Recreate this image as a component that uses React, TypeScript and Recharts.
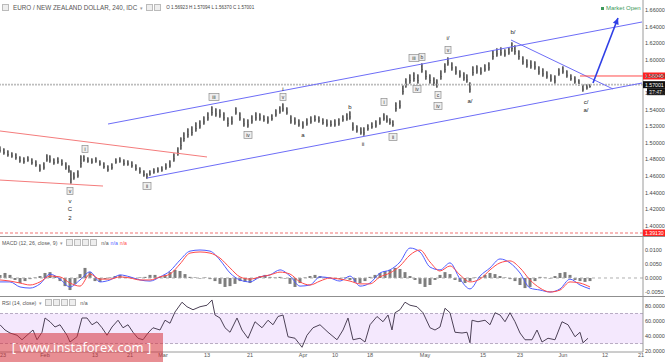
import React from "react";
import {
  ComposedChart,
  Bar,
  Line,
  XAxis,
  YAxis,
  ReferenceLine,
  ReferenceDot,
  ReferenceArea,
} from "recharts";

// bar index = 4h bars since the left edge of the window
const priceBar = [
  0, 4, 8, 12, 16, 20, 24, 28, 32, 36,
  40, 44, 47, 50, 54, 58, 62, 66, 69, 71,
  74, 78, 81, 84, 88, 92, 96, 100, 104, 108,
  112, 116, 120, 124, 128, 132, 136, 140, 144, 147,
  150, 154, 158, 162, 166, 170, 174, 178, 181, 184,
  188, 192, 196, 200, 204, 208, 212, 216, 220, 224,
  228, 232, 236, 240, 244, 248, 252, 256, 260, 264,
  268, 272, 276, 280, 283, 287, 291, 295, 299, 303,
  307, 311, 315, 319, 323, 327, 331, 335, 339, 343,
  347, 350, 353, 357, 361, 364, 368, 372, 376, 380,
  384, 387, 390, 393, 396, 400, 403, 406, 410, 414,
  418, 422, 426, 430, 434, 437, 441, 445, 448, 452,
  456, 460, 464, 467, 470, 473, 477, 481, 485, 489,
  493, 497, 501, 505, 509, 512, 515, 519, 523, 527,
  531, 535, 539, 543, 547, 551, 555, 559, 563, 567,
  571, 575, 579, 583, 587, 590,
];
const priceHigh = [
  1.4961, 1.4937, 1.4913, 1.4889, 1.4877, 1.4841, 1.4829, 1.4841, 1.4816, 1.4792,
  1.4744, 1.4768, 1.4865, 1.4853, 1.4816, 1.4829, 1.4804, 1.4768, 1.4732, 1.4672,
  1.4648, 1.4672, 1.4853, 1.4853, 1.4829, 1.4816, 1.4829, 1.4792, 1.4768, 1.4732,
  1.4756, 1.4816, 1.4829, 1.4804, 1.4792, 1.478, 1.4744, 1.4708, 1.4672, 1.4636,
  1.4672, 1.4696, 1.4708, 1.472, 1.4756, 1.4792, 1.4877, 1.4949, 1.5069, 1.513,
  1.5178, 1.5202, 1.525, 1.5274, 1.5322, 1.5371, 1.5443, 1.5419, 1.5407, 1.5371,
  1.531, 1.5322, 1.5431, 1.5371, 1.5298, 1.5286, 1.5335, 1.5371, 1.5359, 1.5335,
  1.5322, 1.5347, 1.5407, 1.5443, 1.5479, 1.5431, 1.5335, 1.531, 1.5286, 1.5262,
  1.5298, 1.5322, 1.5335, 1.5322, 1.5298, 1.5286, 1.5274, 1.5286, 1.5298, 1.5335,
  1.5359, 1.5383, 1.525, 1.5214, 1.519, 1.519, 1.5226, 1.525, 1.5274, 1.531,
  1.5359, 1.5335, 1.5298, 1.5274, 1.5491, 1.5515, 1.5696, 1.578, 1.5828, 1.5853,
  1.5828, 1.5961, 1.5877, 1.5828, 1.5792, 1.5768, 1.5877, 1.5961, 1.6033, 1.5973,
  1.5925, 1.5877, 1.5853, 1.5828, 1.5732, 1.5925, 1.5937, 1.5913, 1.5949, 1.5973,
  1.6118, 1.6142, 1.6154, 1.613, 1.6154, 1.6214, 1.6178, 1.6118, 1.6045, 1.6009,
  1.5997, 1.5985, 1.5925, 1.5901, 1.5865, 1.5828, 1.5816, 1.5901, 1.5925, 1.5877,
  1.5828, 1.5804, 1.5768, 1.5708, 1.5708, 1.5709,
];
const priceLow = [
  1.4877, 1.4853, 1.4829, 1.4816, 1.4792, 1.4756, 1.4744, 1.4768, 1.4732, 1.4708,
  1.4648, 1.4672, 1.4768, 1.4756, 1.4732, 1.4744, 1.472, 1.4672, 1.4636, 1.4503,
  1.4551, 1.4575, 1.4696, 1.4768, 1.4756, 1.4744, 1.4756, 1.472, 1.4684, 1.4648,
  1.4672, 1.4744, 1.4756, 1.472, 1.472, 1.4696, 1.466, 1.4624, 1.4588, 1.4563,
  1.46, 1.4624, 1.4636, 1.4648, 1.4672, 1.4696, 1.4768, 1.4841, 1.4913, 1.5009,
  1.5057, 1.5081, 1.513, 1.5166, 1.5214, 1.5262, 1.5322, 1.531, 1.5298, 1.5262,
  1.519, 1.5214, 1.5335, 1.5262, 1.519, 1.5178, 1.5226, 1.5262, 1.5262, 1.525,
  1.5226, 1.5262, 1.531, 1.5347, 1.5371, 1.5335, 1.5226, 1.5214, 1.519, 1.5166,
  1.5202, 1.5226, 1.525, 1.5238, 1.5214, 1.519, 1.519, 1.519, 1.5202, 1.525,
  1.5262, 1.5274, 1.5142, 1.5118, 1.5094, 1.5081, 1.5142, 1.5166, 1.5178, 1.5214,
  1.5262, 1.5238, 1.5214, 1.519, 1.5371, 1.5407, 1.5575, 1.566, 1.5708, 1.5732,
  1.5708, 1.584, 1.5756, 1.5708, 1.5684, 1.566, 1.5756, 1.584, 1.5925, 1.5865,
  1.5816, 1.578, 1.5744, 1.572, 1.56, 1.5804, 1.5828, 1.5816, 1.5853, 1.5865,
  1.5997, 1.6033, 1.6045, 1.6033, 1.6057, 1.6094, 1.6057, 1.5997, 1.5937, 1.5901,
  1.5889, 1.5877, 1.5816, 1.5792, 1.5768, 1.5732, 1.5708, 1.5804, 1.5828, 1.578,
  1.5744, 1.5708, 1.5684, 1.5612, 1.5637, 1.566,
];

const priceTicks = [1.4, 1.42, 1.44, 1.46, 1.48, 1.5, 1.52, 1.54, 1.56, 1.58, 1.6, 1.62, 1.64, 1.66];

// MACD (12, 26, close, 9)
const macdBar = [
  0, 10, 20, 30, 40, 50, 60, 70, 80, 90, 100, 110, 120, 130, 140, 150, 160, 170, 180, 190,
  200, 210, 220, 230, 240, 250, 260, 270, 280, 290, 300, 310, 320, 330, 340, 350, 360, 370, 380, 390,
  400, 410, 420, 430, 440, 450, 460, 470, 480, 490, 500, 510, 520, 530, 540, 550, 560, 570, 580, 590,
];
const macdLine = [
  -0.0014, -0.0014, -0.0032, -0.0036, -0.0021, 0.0014, -0.0004, -0.0032, -0.0007, 0.0022,
  -0.0014, -0.0007, 0.0011, 0.0004, -0.0007, -0.0011, 0.0004, 0.0025, 0.0064, 0.0096,
  0.01, 0.0096, 0.0064, 0.0018, -0.0007, -0.0014, 0.0004, 0.0011, 0.0029, 0.0007,
  -0.0029, -0.0025, 0.0004, 0.0, -0.0011, 0.0007, -0.0029, -0.0018, 0.0018, 0.0029,
  0.0057, 0.0107, 0.0093, 0.0039, 0.0029, 0.0054, -0.0004, -0.0039, 0.0007, 0.0036,
  0.0068, 0.0054, 0.0018, -0.0036, -0.0043, -0.005, -0.0039, -0.0004, -0.0025, -0.0039,
];
const signalLine = [
  -0.0007, -0.0011, -0.0018, -0.0025, -0.0014, 0.0007, 0.0004, -0.0018, -0.0029, 0.0014,
  -0.0004, -0.0004, 0.0004, 0.0, -0.0007, -0.0007, 0.0004, 0.0014, 0.005, 0.0089,
  0.0093, 0.0089, 0.0071, 0.0036, 0.0004, -0.0004, 0.0004, 0.0011, 0.0021, 0.0014,
  -0.0014, -0.0025, -0.0011, 0.0, -0.0004, -0.0011, -0.0021, -0.0021, 0.0004, 0.0018,
  0.0043, 0.0082, 0.01, 0.0057, 0.0025, 0.0043, 0.0011, -0.0014, -0.0004, 0.0029,
  0.0054, 0.0061, 0.0036, -0.0007, -0.0036, -0.005, -0.0043, -0.0014, -0.0018, -0.0032,
];
const histBar = [
  0, 5, 10, 15, 20, 25, 30, 35, 40, 45, 50, 55, 60, 65, 70, 75, 80, 85, 90, 95,
  100, 105, 110, 115, 120, 125, 130, 135, 140, 145, 150, 155, 160, 165, 170, 175, 180, 185, 190, 195,
  200, 205, 210, 215, 220, 225, 230, 235, 240, 245, 250, 255, 260, 265, 270, 275, 280, 285, 290, 295,
  300, 305, 310, 315, 320, 325, 330, 335, 340, 345, 350, 355, 360, 365, 370, 375, 380, 385, 390, 395,
  400, 405, 410, 415, 420, 425, 430, 435, 440, 445, 450, 455, 460, 465, 470, 475, 480, 485, 490, 495,
  500, 505, 510, 515, 520, 525, 530, 535, 540, 545, 550, 555, 560, 565, 570, 575, 580, 585, 590,
];
const histValue = [
  0.0011, 0.0018, 0.0011, -0.0007, -0.0018, -0.0011, -0.0004, 0.0002, 0.0007, 0.0018,
  0.0021, 0.0007, -0.0011, -0.0029, -0.0043, -0.0021, 0.0014, 0.0036, 0.0021, -0.0011,
  -0.0014, -0.0004, 0.0002, 0.0007, 0.0011, 0.0004, 0.0002, -0.0002, 0.0002, 0.0004,
  0.0011, 0.0011, 0.0004, 0.0011, 0.0021, 0.0029, 0.0025, 0.0014, 0.0004, 0.0002,
  -0.0002, 0.0002, -0.0004, -0.0011, -0.0021, -0.0032, -0.0029, -0.0021, -0.0011, -0.0014,
  -0.0018, -0.0004, 0.0007, 0.0011, 0.0004, 0.0002, 0.0004, -0.0002, -0.0021, -0.0032,
  -0.0018, 0.0002, 0.0007, 0.0011, 0.0007, 0.0002, 0.0002, -0.0002, -0.0004, 0.0002,
  -0.0007, -0.0014, -0.0018, -0.0011, 0.0004, 0.0011, 0.0018, 0.0025, 0.0029, 0.0036,
  0.0032, 0.0021, 0.0007, -0.0007, -0.0021, -0.0032, -0.0025, -0.0007, 0.0011, 0.0021,
  0.0014, -0.0007, -0.0014, -0.0018, -0.0011, 0.0002, 0.0004, 0.0011, 0.0018, 0.0014,
  0.0007, 0.0002, -0.0004, -0.0011, -0.0025, -0.0036, -0.0032, -0.0011, 0.0004, 0.0002,
  -0.0002, 0.0007, 0.0018, 0.0021, 0.0011, -0.0007, -0.0011, -0.0014, -0.0011,
];

// RSI (14, close)
const rsiBar = [
  0, 5, 10, 17, 22, 27, 33, 37, 42, 45, 50, 55, 60, 67, 70, 77, 82, 87, 92, 97,
  102, 107, 112, 118, 123, 128, 133, 138, 143, 148, 153, 160, 165, 170, 175, 182, 187, 193, 200, 207,
  212, 215, 220, 225, 230, 237, 242, 248, 255, 262, 268, 273, 278, 283, 288, 295, 302, 307, 313, 320,
  328, 337, 343, 348, 353, 360, 365, 370, 377, 383, 388, 392, 395, 400, 405, 410, 417, 423, 430, 435,
  440, 445, 450, 455, 462, 467, 470, 472, 478, 485, 490, 495, 500, 505, 510, 515, 520, 525, 532, 537,
  542, 548, 555, 562, 568, 575, 580, 583, 588,
];
const rsiValue = [
  55, 48, 44, 41, 35, 41, 48, 35, 45, 64, 59, 52, 55, 41, 32, 39, 64, 64, 55, 59,
  51, 41, 52, 61, 51, 55, 45, 37, 35, 44, 51, 48, 61, 57, 72, 85, 79, 75, 79, 81,
  88, 68, 64, 51, 45, 64, 48, 37, 59, 51, 61, 55, 66, 68, 39, 37, 25, 41, 51, 55,
  45, 35, 48, 64, 35, 37, 32, 55, 66, 59, 68, 48, 71, 75, 85, 81, 79, 71, 51, 48,
  52, 77, 71, 45, 44, 45, 31, 61, 59, 61, 55, 71, 68, 59, 71, 59, 44, 35, 35, 48,
  32, 37, 35, 59, 55, 39, 45, 31, 37,
];

const dateTickBar = [3, 45, 95, 130, 163, 207, 250, 303, 335, 370, 425, 483, 520, 563, 605, 641];
const dateTickLabel = ["23", "Feb", "13", "21", "Mar", "13", "21", "Apr", "10", "18", "May", "15", "23", "Jun", "12", "21"];

// Elliott wave marks, placed at [bar, price]
const waveLabels = [
  { bar: 70, price: 1.4419, text: "v", boxed: true },
  { bar: 70, price: 1.4302, text: "v", boxed: false },
  { bar: 70, price: 1.4202, text: "C", boxed: false },
  { bar: 70, price: 1.4093, text: "2", boxed: false },
  { bar: 85, price: 1.4925, text: "i", boxed: true },
  { bar: 147, price: 1.4479, text: "ii", boxed: true },
  { bar: 214, price: 1.5551, text: "iii", boxed: true },
  { bar: 248, price: 1.5094, text: "iv", boxed: true },
  { bar: 283, price: 1.5551, text: "v", boxed: true },
  { bar: 283, price: 1.5648, text: "i", boxed: false },
  { bar: 303, price: 1.5094, text: "a", boxed: false },
  { bar: 350, price: 1.5431, text: "b", boxed: false },
  { bar: 363, price: 1.4985, text: "ii", boxed: false },
  { bar: 384, price: 1.5491, text: "i", boxed: true },
  { bar: 393, price: 1.5069, text: "ii", boxed: true },
  { bar: 414, price: 1.6021, text: "iii", boxed: true },
  { bar: 422, price: 1.6033, text: "b", boxed: true },
  { bar: 417, price: 1.5648, text: "iv", boxed: true },
  { bar: 438, price: 1.5575, text: "c", boxed: true },
  { bar: 438, price: 1.5443, text: "iv", boxed: true },
  { bar: 448, price: 1.6118, text: "v", boxed: true },
  { bar: 448, price: 1.6262, text: "i/", boxed: false },
  { bar: 470, price: 1.5503, text: "a/", boxed: false },
  { bar: 513, price: 1.6335, text: "b/", boxed: false },
  { bar: 586, price: 1.5491, text: "c/", boxed: false },
  { bar: 586, price: 1.5395, text: "a/", boxed: false },
];

const trendLines = [
  { from: [108, 1.5226], to: [642, 1.6455], color: "#6d6df7" },
  { from: [147, 1.4575], to: [642, 1.572], color: "#6d6df7" },
  { from: [0, 1.5142], to: [207, 1.4829], color: "#f47c7c" },
  { from: [0, 1.4551], to: [103, 1.4479], color: "#f47c7c" },
  { from: [511, 1.6238], to: [613, 1.5648], color: "#6d6df7" },
  { from: [580, 1.58045], to: [643, 1.58045], color: "#ff4a4a" },
];
const forecastArrow = { from: [593, 1.572], to: [618, 1.6503] };

const priceData = priceBar.map((bar, i) => ({ bar, range: [priceLow[i], priceHigh[i]] }));
const macdData = histBar.map((bar, i) => {
  const j = macdBar.indexOf(bar);
  return {
    bar,
    hist: histValue[i],
    macd: j >= 0 ? macdLine[j] : null,
    signal: j >= 0 ? signalLine[j] : null,
  };
});
const rsiData = rsiBar.map((bar, i) => ({ bar, rsi: rsiValue[i] }));

const FONT = "'Liberation Sans', Arial, sans-serif";
const axisTick = { fontSize: 5.5, fill: "#444", fontFamily: FONT };

const OhlcShape = (props: any) => {
  const { x, y, width, height } = props;
  if (x == null || y == null) return null;
  const top = height < 0 ? y + height : y;
  const h = Math.max(Math.abs(height), 1);
  const cx = x + width / 2;
  return (
    <g>
      <rect x={x} y={top + 1} width={width} height={Math.max(h - 2, 1)} fill="#9c9c9c" />
      <line x1={cx} x2={cx} y1={top} y2={top + h} stroke="#3a3a3a" strokeWidth={1} />
      <line x1={x} x2={cx} y1={top + h * 0.35} y2={top + h * 0.35} stroke="#555" strokeWidth={0.8} />
      <line x1={cx} x2={x + width} y1={top + h * 0.65} y2={top + h * 0.65} stroke="#555" strokeWidth={0.8} />
    </g>
  );
};

const WaveMark = ({ cx, cy, text, boxed }: any) => {
  if (cx == null || cy == null) return null;
  if (!boxed) {
    return (
      <text x={cx} y={cy} dy={2} textAnchor="middle" fontSize={6} fill="#222" fontFamily={FONT}>
        {text}
      </text>
    );
  }
  const w = Math.max(6, text.length * 2 + 4);
  return (
    <g>
      <rect x={cx - w / 2} y={cy - 3.5} width={w} height={7} fill="#eeeeee" stroke="#8d8d8d" strokeWidth={0.7} />
      <text x={cx} y={cy} dy={1.8} textAnchor="middle" fontSize={5} fill="#333" fontFamily={FONT}>
        {text}
      </text>
    </g>
  );
};

const AxisTag = ({ cx, cy, text, bg, sub }: any) => {
  if (cx == null || cy == null) return null;
  return (
    <g>
      <rect x={cx} y={cy - 3.5} width={22} height={7} fill={bg} />
      <text x={cx + 2} y={cy} dy={1.9} fontSize={5.2} fill="#fff" fontFamily={FONT}>
        {text}
      </text>
      {sub ? (
        <g>
          <rect x={cx + 4} y={cy + 3.5} width={18} height={7} fill={bg} />
          <text x={cx + 6} y={cy + 7} dy={1.9} fontSize={5.2} fill="#fff" fontFamily={FONT}>
            {sub}
          </text>
        </g>
      ) : null}
    </g>
  );
};

const ArrowShape = (props: any) => {
  const { x1, y1, x2, y2 } = props;
  if (x1 == null) return null;
  const ang = Math.atan2(y2 - y1, x2 - x1);
  const len = 7;
  const wing = 0.45;
  const ax = x2 - len * Math.cos(ang - wing);
  const ay = y2 - len * Math.sin(ang - wing);
  const bx = x2 - len * Math.cos(ang + wing);
  const by = y2 - len * Math.sin(ang + wing);
  return (
    <g>
      <line x1={x1} y1={y1} x2={x2} y2={y2} stroke="#2f3fe6" strokeWidth={1.6} />
      <polygon points={`${x2},${y2} ${ax},${ay} ${bx},${by}`} fill="#2f3fe6" />
    </g>
  );
};

const DateTick = (props: any) => {
  const { x, y, payload } = props;
  const label = dateTickLabel[dateTickBar.indexOf(payload.value)] ?? "";
  return (
    <text x={x} y={y + 5} textAnchor="middle" fontSize={5.5} fill="#555" fontFamily={FONT}>
      {label}
    </text>
  );
};

const iconBox = (key: number) => (
  <span
    key={key}
    style={{
      display: "inline-block",
      width: 5,
      height: 5,
      border: "1px solid #bbb",
      background: "#eee",
      marginRight: 1,
    }}
  />
);

export default function App() {
  return (
    <div
      style={{
        position: "absolute",
        left: 0,
        top: 0,
        width: 665,
        height: 362,
        overflow: "hidden",
        background: "#fff",
        fontFamily: FONT,
      }}
    >
      {/* price pane */}
      <div style={{ position: "absolute", left: 0, top: 0 }}>
        <ComposedChart width={665} height={236} data={priceData} margin={{ top: 0, right: 0, bottom: 0, left: 0 }}>
          <XAxis type="number" dataKey="bar" domain={[0, 643]} hide allowDataOverflow />
          <YAxis
            orientation="right"
            width={22}
            domain={[1.3877, 1.672]}
            ticks={priceTicks}
            interval={0}
            allowDataOverflow
            tick={axisTick}
            tickSize={0}
            tickMargin={2}
            axisLine={{ stroke: "#9a9a9a" }}
            tickFormatter={(v: number) => v.toFixed(5)}
          />
          <ReferenceLine y={1.57001} stroke="#bdbdbd" strokeWidth={1.6} strokeDasharray="2 1" />
          <ReferenceLine y={1.3913} stroke="#f5a3a3" strokeWidth={1.4} strokeDasharray="3 2" />
          {trendLines.map((t, i) => (
            <ReferenceLine
              key={`tl-${i}`}
              segment={[
                { x: t.from[0], y: t.from[1] },
                { x: t.to[0], y: t.to[1] },
              ]}
              stroke={t.color}
              strokeWidth={1}
              ifOverflow="visible"
            />
          ))}
          <Bar dataKey="range" barSize={4} shape={OhlcShape} isAnimationActive={false} />
          <ReferenceLine
            segment={[
              { x: forecastArrow.from[0], y: forecastArrow.from[1] },
              { x: forecastArrow.to[0], y: forecastArrow.to[1] },
            ]}
            ifOverflow="visible"
            shape={ArrowShape}
          />
          {waveLabels.map((w, i) => (
            <ReferenceDot
              key={`w-${i}`}
              x={w.bar}
              y={w.price}
              r={3}
              ifOverflow="visible"
              shape={(p: any) => <WaveMark cx={p.cx} cy={p.cy} text={w.text} boxed={w.boxed} />}
            />
          ))}
          <ReferenceDot
            x={643}
            y={1.58045}
            r={3}
            ifOverflow="visible"
            shape={(p: any) => <AxisTag cx={p.cx} cy={p.cy} text="1.58045" bg="#f22" />}
          />
          <ReferenceDot
            x={643}
            y={1.57001}
            r={3}
            ifOverflow="visible"
            shape={(p: any) => <AxisTag cx={p.cx} cy={p.cy} text="1.57001" sub="37:47" bg="#111" />}
          />
          <ReferenceDot
            x={643}
            y={1.3913}
            r={3}
            ifOverflow="visible"
            shape={(p: any) => <AxisTag cx={p.cx} cy={p.cy} text="1.39130" bg="#f22" />}
          />
        </ComposedChart>
      </div>

      {/* MACD pane */}
      <div style={{ position: "absolute", left: 0, top: 236 }}>
        <ComposedChart width={665} height={60} data={macdData} margin={{ top: 0, right: 0, bottom: 0, left: 0 }}>
          <XAxis type="number" dataKey="bar" domain={[0, 643]} hide allowDataOverflow />
          <YAxis
            orientation="right"
            width={22}
            domain={[-0.00643, 0.015]}
            ticks={[-0.005, 0, 0.005, 0.01]}
            interval={0}
            allowDataOverflow
            tick={axisTick}
            tickSize={0}
            tickMargin={2}
            axisLine={{ stroke: "#9a9a9a" }}
            tickFormatter={(v: number) => v.toFixed(4)}
          />
          <ReferenceLine y={0} stroke="#b0b0b0" strokeDasharray="3 3" />
          <Bar dataKey="hist" barSize={3} fill="#7d7d7d" isAnimationActive={false} />
          <Line
            dataKey="macd"
            type="monotone"
            stroke="#4f5cff"
            strokeWidth={1}
            dot={false}
            connectNulls
            isAnimationActive={false}
          />
          <Line
            dataKey="signal"
            type="monotone"
            stroke="#ff4a4a"
            strokeWidth={1}
            dot={false}
            connectNulls
            isAnimationActive={false}
          />
        </ComposedChart>
      </div>

      {/* RSI pane */}
      <div style={{ position: "absolute", left: 0, top: 296 }}>
        <ComposedChart width={665} height={66} data={rsiData} margin={{ top: 0, right: 0, bottom: 0, left: 0 }}>
          <XAxis
            type="number"
            dataKey="bar"
            domain={[0, 643]}
            allowDataOverflow
            ticks={dateTickBar}
            interval={0}
            height={10}
            tick={DateTick}
            tickLine={false}
            tickSize={0}
            tickMargin={0}
            axisLine={{ stroke: "#9a9a9a" }}
          />
          <YAxis
            orientation="right"
            width={22}
            domain={[18.7, 93.3]}
            ticks={[20, 40, 60, 80]}
            interval={0}
            allowDataOverflow
            tick={axisTick}
            tickSize={0}
            tickMargin={2}
            axisLine={{ stroke: "#9a9a9a" }}
            tickFormatter={(v: number) => v.toFixed(4)}
          />
          <ReferenceArea y1={30} y2={70} fill="#f4e8fd" fillOpacity={1} stroke="none" />
          <ReferenceLine y={70} stroke="#b8acc4" strokeDasharray="3 2" />
          <ReferenceLine y={30} stroke="#b8acc4" strokeDasharray="3 2" />
          <Line dataKey="rsi" type="linear" stroke="#4d4257" strokeWidth={1} dot={false} isAnimationActive={false} />
        </ComposedChart>
      </div>

      {/* pane separators */}
      <div style={{ position: "absolute", left: 0, top: 236, width: 665, height: 1, background: "#8f8f8f" }} />
      <div style={{ position: "absolute", left: 0, top: 296, width: 665, height: 1, background: "#8f8f8f" }} />

      {/* legends */}
      <div
        style={{
          position: "absolute",
          left: 2,
          top: 4,
          display: "flex",
          alignItems: "center",
          whiteSpace: "nowrap",
          color: "#555",
        }}
      >
        {iconBox(0)}
        <span style={{ fontSize: 6.3, marginLeft: 3 }}>EURO / NEW ZEALAND DOLLAR, 240, IDC</span>
        <span style={{ fontSize: 5, margin: "0 3px", color: "#999" }}>▾</span>
        {iconBox(1)}
        {iconBox(2)}
        <span style={{ fontSize: 4.6, marginLeft: 4, color: "#444" }}>O 1.56923 H 1.57094 L 1.56370 C 1.57001</span>
      </div>
      <div
        style={{
          position: "absolute",
          left: 601,
          top: 5,
          fontSize: 6,
          color: "#3d9a5c",
          whiteSpace: "nowrap",
          display: "flex",
          alignItems: "center",
        }}
      >
        <span
          style={{ display: "inline-block", width: 3, height: 3, background: "#3d9a5c", marginRight: 2 }}
        />
        Market Open
      </div>
      <div
        style={{
          position: "absolute",
          left: 2,
          top: 239,
          fontSize: 5.2,
          color: "#555",
          whiteSpace: "nowrap",
          display: "flex",
          alignItems: "center",
        }}
      >
        <span>MACD (12, 26, close, 9)</span>
        <span style={{ margin: "0 3px", color: "#999" }}>▾</span>
        {[0, 1, 2, 3].map((k) => iconBox(k))}
        <span style={{ marginLeft: 3 }}>n/a</span>
        <span style={{ marginLeft: 2, color: "#4f5cff" }}>n/a</span>
        <span style={{ marginLeft: 2, color: "#ff4a4a" }}>n/a</span>
      </div>
      <div
        style={{
          position: "absolute",
          left: 2,
          top: 299,
          fontSize: 5.2,
          color: "#555",
          whiteSpace: "nowrap",
          display: "flex",
          alignItems: "center",
        }}
      >
        <span>RSI (14, close)</span>
        <span style={{ margin: "0 3px", color: "#999" }}>▾</span>
        {[0, 1, 2, 3].map((k) => iconBox(k))}
        <span style={{ marginLeft: 3 }}>n/a</span>
      </div>

      {/* watermark */}
      <div
        style={{
          position: "absolute",
          left: 0,
          top: 333,
          width: 163,
          height: 29,
          background: "rgba(214, 50, 58, 0.55)",
          color: "#fff",
          fontSize: 13,
          lineHeight: "29px",
          textAlign: "center",
          whiteSpace: "nowrap",
          fontFamily: "'Open Sans', " + FONT,
        }}
      >
        [ www.instaforex.com ]
      </div>
    </div>
  );
}
